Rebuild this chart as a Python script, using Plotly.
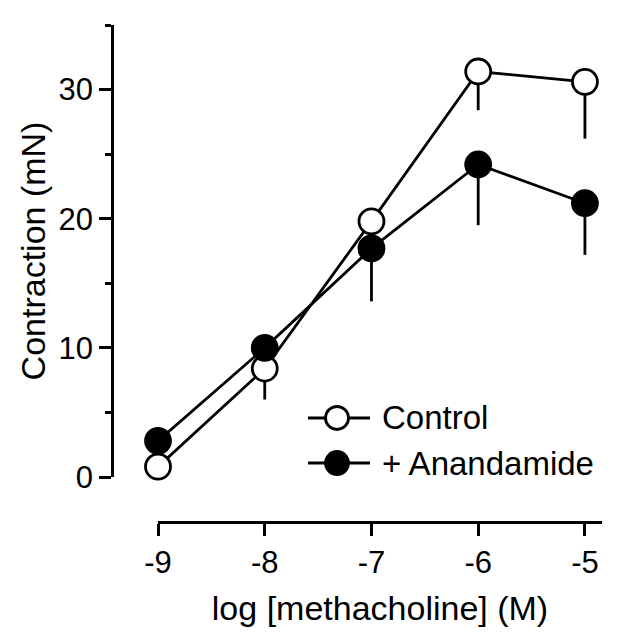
import plotly.graph_objects as go

log_conc = [-9, -8, -7, -6, -5]

control = [0.8, 8.4, 19.8, 31.4, 30.6]
control_err = [0, 2.4, 1.5, 3.0, 4.4]

anandamide = [2.8, 10.0, 17.7, 24.2, 21.2]
anandamide_err = [0, 0, 4.1, 4.7, 4.0]

series_names = ["Control", "+ Anandamide"]

FONT = "Liberation Sans"
INK = "black"
LW = 2.8


def add_series(fig, y, err, name, fill):
    fig.add_trace(
        go.Scatter(
            x=log_conc,
            y=y,
            name=name,
            mode="lines+markers",
            line=dict(color=INK, width=LW),
            marker=dict(size=25, color=fill, line=dict(color=INK, width=LW)),
            error_y=dict(
                type="data",
                symmetric=False,
                array=[0] * len(err),
                arrayminus=err,
                width=0,
                thickness=LW,
                color=INK,
            ),
            cliponaxis=False,
            showlegend=False,
        )
    )


fig = go.Figure()
add_series(fig, control, control_err, series_names[0], "white")
add_series(fig, anandamide, anandamide_err, series_names[1], INK)

# hand-drawn key, "-O-" style like the original figure
key_rows = [(0.2093, "white", series_names[0]), (0.1187, INK, series_names[1])]
rx, ry = 11.5 / 490, 11.5 / 497
shapes = []
annotations = []
for yy, fill, label in key_rows:
    shapes.append(
        dict(type="line", xref="paper", yref="paper", x0=0.40, x1=0.5265,
             y0=yy, y1=yy, line=dict(color=INK, width=LW))
    )
    shapes.append(
        dict(type="circle", xref="paper", yref="paper",
             x0=0.4592 - rx, x1=0.4592 + rx, y0=yy - ry, y1=yy + ry,
             fillcolor=fill, line=dict(color=INK, width=LW))
    )
    annotations.append(
        dict(text=label, xref="paper", yref="paper", x=0.547, y=yy,
             xanchor="left", yanchor="middle", showarrow=False,
             font=dict(size=33, family=FONT, color=INK))
    )

tick_font = dict(family=FONT, color=INK, size=31)

fig.update_layout(
    width=640,
    height=640,
    margin=dict(l=104, r=46, t=17, b=126),
    plot_bgcolor="white",
    paper_bgcolor="white",
    font=dict(family=FONT, color=INK, size=31),
    showlegend=False,
    shapes=shapes,
    annotations=annotations,
)
fig.update_xaxes(
    domain=[0.0939, 1],
    range=[-9, -4.84],
    anchor="free",
    position=0,
    showline=True,
    linecolor=INK,
    linewidth=LW,
    ticks="outside",
    ticklen=12,
    tickwidth=LW,
    tickcolor=INK,
    tickvals=log_conc,
    ticktext=[str(v) for v in log_conc],
    tickfont=tick_font,
    showgrid=False,
    zeroline=False,
    title=dict(text="log [methacholine] (M)", font=dict(size=34), standoff=17),
)
fig.update_yaxes(
    domain=[0.0905, 1],
    range=[0, 35],
    anchor="free",
    position=0,
    showline=True,
    linecolor=INK,
    linewidth=LW,
    ticks="outside",
    ticklen=12,
    tickwidth=LW,
    tickcolor=INK,
    tickvals=[0, 10, 20, 30],
    tickfont=tick_font,
    minor=dict(
        tickvals=[5, 15, 25, 35],
        ticks="outside",
        ticklen=6,
        tickwidth=LW,
        tickcolor=INK,
    ),
    showgrid=False,
    zeroline=False,
    title=dict(text="Contraction (mN)", font=dict(size=34), standoff=1),
)

fig.write_html("out.html")
